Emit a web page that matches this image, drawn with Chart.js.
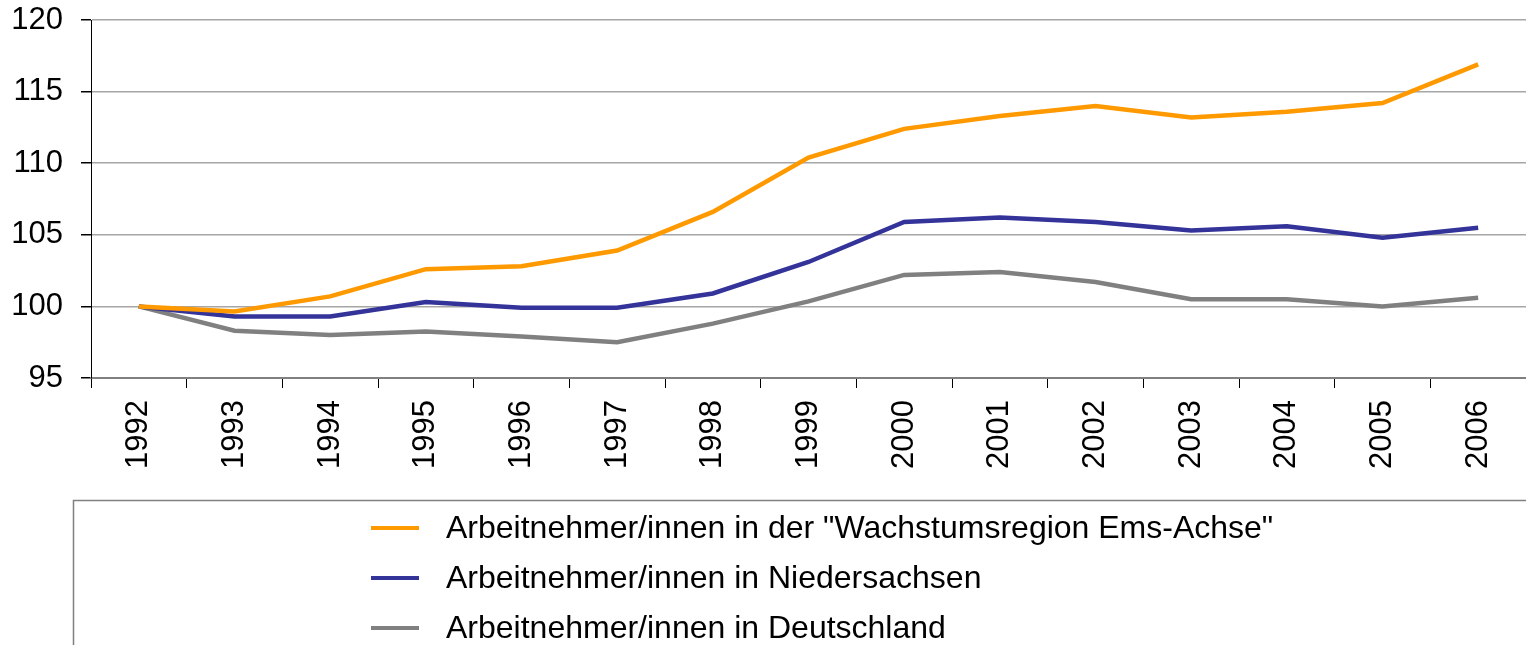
<!DOCTYPE html>
<html>
<head>
<meta charset="utf-8">
<script src="https://cdn.jsdelivr.net/npm/chart.js@4.4.1/dist/chart.umd.min.js"></script>
<style>
  html, body { margin: 0; padding: 0; background: #fff; }
  #wrap { position: relative; width: 1526px; height: 645px; }
</style>
</head>
<body>
<div id="wrap"><canvas id="lineChart" width="1526" height="645"></canvas></div>
<script>
const years = ['1992', '1993', '1994', '1995', '1996', '1997', '1998', '1999',
               '2000', '2001', '2002', '2003', '2004', '2005', '2006'];
const emsAchse = [100, 99.65, 100.7, 102.6, 102.8, 103.9, 106.6, 110.4,
                  112.4, 113.3, 114.0, 113.2, 113.6, 114.2, 116.9];
const niedersachsen = [100, 99.3, 99.3, 100.3, 99.9, 99.9, 100.9, 103.1,
                       105.9, 106.2, 105.9, 105.3, 105.6, 104.8, 105.5];
const deutschland = [100, 98.3, 98.0, 98.25, 97.9, 97.5, 98.8, 100.35,
                     102.2, 102.4, 101.7, 100.5, 100.5, 100.0, 100.6];
const seriesNames = [
  'Arbeitnehmer/innen in der "Wachstumsregion Ems-Achse"',
  'Arbeitnehmer/innen in Niedersachsen',
  'Arbeitnehmer/innen in Deutschland'
];
const yTicks = [95, 100, 105, 110, 115, 120];

const FONT = '"Liberation Sans", Arial, sans-serif';

// legend in a box below the plot, one entry per row
const boxLegend = {
  id: 'boxLegend',
  afterDraw(chart) {
    const ctx = chart.ctx;
    ctx.save();
    ctx.strokeStyle = '#808080';
    ctx.lineWidth = 1.5;
    ctx.strokeRect(73.5, 500.5, 1600, 300);
    ctx.font = '32px ' + FONT;
    ctx.textBaseline = 'middle';
    chart.data.datasets.forEach((ds, i) => {
      const y = 528 + i * 50;
      ctx.strokeStyle = ds.borderColor;
      ctx.lineWidth = 4;
      ctx.beginPath();
      ctx.moveTo(371, y);
      ctx.lineTo(419, y);
      ctx.stroke();
      ctx.fillStyle = '#000';
      ctx.fillText(ds.label, 446, y + 1);
    });
    ctx.restore();
  }
};

const ctx = document.getElementById('lineChart').getContext('2d');
new Chart(ctx, {
  type: 'line',
  data: {
    labels: years,
    datasets: [
      { label: seriesNames[0], data: emsAchse, borderColor: '#FF9900' },
      { label: seriesNames[1], data: niedersachsen, borderColor: '#333399' },
      { label: seriesNames[2], data: deutschland, borderColor: '#808080' }
    ].map(d => Object.assign(d, { borderWidth: 4.5, pointRadius: 0, tension: 0, fill: false }))
  },
  options: {
    responsive: false,
    animation: false,
    layout: { autoPadding: false, padding: { top: 20, left: 0, right: 0, bottom: 147 } },
    plugins: {
      legend: { display: false },
      tooltip: { enabled: false }
    },
    scales: {
      x: {
        offset: true,
        grid: { offset: true, drawOnChartArea: false, drawTicks: true, tickLength: 10, tickColor: '#000' },
        border: { color: '#808080', width: 2 },
        ticks: {
          color: '#000', font: { family: FONT, size: 31 },
          minRotation: 90, maxRotation: 90, padding: 12, autoSkip: false
        },
        afterFit: s => { s.height = 120; s.paddingLeft = 0; s.paddingRight = 0; }
      },
      y: {
        min: yTicks[0],
        max: yTicks[yTicks.length - 1],
        afterBuildTicks: s => { s.ticks = yTicks.map(v => ({ value: v })); },
        grid: { color: '#a6a6a6', lineWidth: 1.5, tickLength: 10, tickColor: '#000' },
        border: { color: '#000', width: 1 },
        ticks: { color: '#000', font: { family: FONT, size: 31 }, padding: 18 },
        afterFit: s => { s.width = 91; s.paddingTop = 0; s.paddingBottom = 0; }
      }
    }
  },
  plugins: [boxLegend]
});
</script>
</body>
</html>
